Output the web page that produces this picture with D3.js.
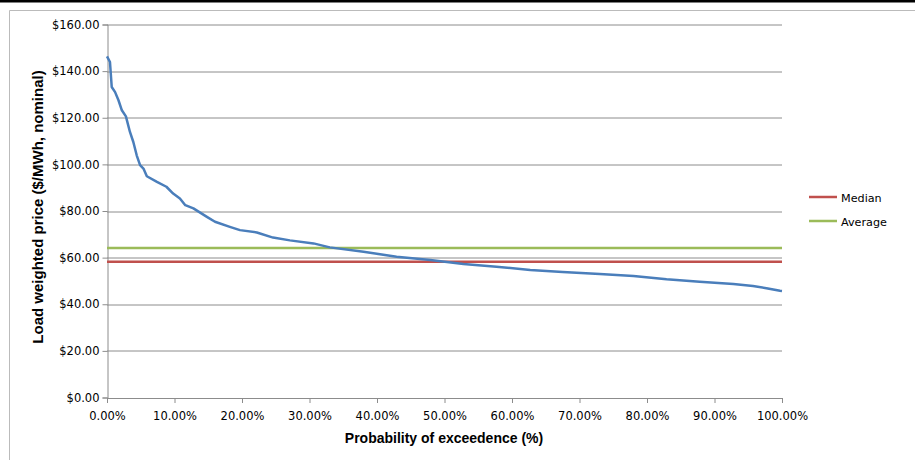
<!DOCTYPE html>
<html>
<head>
<meta charset="utf-8">
<script src="https://cdn.jsdelivr.net/npm/d3@7"></script>
<style>
 body{margin:0;background:#fff;}
 svg text{font-family:"DejaVu Sans",sans-serif;fill:#000;}
 .ttl{font-family:"Liberation Sans",Arial,sans-serif !important;font-weight:bold;}
</style>
</head>
<body>
<div id="chartDiv"></div>
<script>
// Data
var exceedPct = [0,0.44,0.7,1.2,1.7,2.2,2.8,3.4,3.9,4.4,4.9,5.4,5.9,7.4,8.8,9.8,10.8,11.6,12.8,14.8,16,18.2,19.7,22.2,24.6,27.1,30.6,33,38,42.9,47.9,52.8,57.7,62.7,67.5,73,78,82.9,87.8,92.8,95.7,97.7,99.7,100];
var priceVals = [146.3,143.9,133.2,131,127.5,123.2,120.6,113.9,109.6,103.9,99.7,98.2,94.9,92.5,90.4,87.5,85.4,82.5,81.1,77.5,75.4,73.2,71.8,70.8,68.6,67.4,66.1,64.4,62.5,60.4,59,57.3,56.1,54.7,53.8,53,52.1,50.7,49.7,48.7,47.8,46.9,45.8,45.7];
var medianVal = 58.2;
var averageVal = 64.1;
var yTicks = [0,20,40,60,80,100,120,140,160];
var xTicks = [0,10,20,30,40,50,60,70,80,90,100];
var legendNames = ["Median","Average"];
var legendColors = ["#C0504D","#9BBB59"];

var W = 915, H = 460;
var margin = {top: 24.5, right: 133, bottom: 62.5, left: 107};
var width = W - margin.left - margin.right;
var height = H - margin.top - margin.bottom;

var svgRoot = d3.select("#chartDiv").append("svg")
  .attr("width", W).attr("height", H);

// top black band and chart frame
svgRoot.append("rect").attr("x",0).attr("y",0).attr("width",W).attr("height",2.5).attr("fill","#000");
svgRoot.append("path").attr("d","M9.5," + H + "V10.5H" + W)
  .attr("fill","none").attr("stroke","#bbb").attr("stroke-width",1);

var svg = svgRoot.append("g")
  .attr("transform","translate(" + margin.left + "," + margin.top + ")");

var xScale = d3.scaleLinear().domain([0,100]).range([0,width]);
var yScale = d3.scaleLinear().domain([0,160]).range([height,0]);

// grid lines
svg.append("g")
  .selectAll("line").data(yTicks.slice(1)).enter().append("line")
  .attr("x1",0).attr("x2",width)
  .attr("y1",function(d){return Math.round(yScale(d))+0.5;})
  .attr("y2",function(d){return Math.round(yScale(d))+0.5;})
  .attr("stroke","#8c8c8c").attr("stroke-width",1);

// y axis
var yAxis = svg.append("g")
  .attr("transform","translate(0.5,0)")
  .call(d3.axisLeft(yScale).tickValues(yTicks).tickSize(5).tickPadding(3)
    .tickFormat(function(d){return "$" + d3.format(".2f")(d);}));
yAxis.select(".domain").attr("stroke","#8c8c8c");
yAxis.selectAll(".tick line").attr("stroke","#8c8c8c");
yAxis.selectAll("text").style("font-size","11.5px");

// x axis
var xAxis = svg.append("g")
  .attr("transform","translate(0," + (Math.round(height)+0.5) + ")")
  .call(d3.axisBottom(xScale).tickValues(xTicks).tickSize(5).tickPadding(9)
    .tickFormat(function(d){return d3.format(".2f")(d) + "%";}));
xAxis.select(".domain").attr("stroke","#8c8c8c");
xAxis.selectAll(".tick line").attr("stroke","#8c8c8c");
xAxis.selectAll("text").style("font-size","11.5px");

// median and average lines
var refVals = [medianVal, averageVal];
svg.selectAll(".ref").data(refVals).enter().append("line")
  .attr("class","ref")
  .attr("x1",0).attr("x2",width)
  .attr("y1",function(d){return yScale(d);})
  .attr("y2",function(d){return yScale(d);})
  .attr("stroke",function(d,i){return legendColors[i];})
  .attr("stroke-width",2.5);

// exceedance curve
var curveData = exceedPct.map(function(p,i){return {p:p, v:priceVals[i]};});
var valueline = d3.line()
  .x(function(d){return xScale(d.p);})
  .y(function(d){return yScale(d.v);});
svg.append("path").datum(curveData)
  .attr("d",valueline)
  .attr("fill","none")
  .attr("stroke","#4A7EBB")
  .attr("stroke-width",2.5)
  .attr("stroke-linejoin","round");

// axis titles
svgRoot.append("text").attr("class","ttl")
  .attr("x", 444).attr("y", 443)
  .attr("text-anchor","middle").style("font-size","14px")
  .text("Probability of exceedence (%)");
svgRoot.append("text").attr("class","ttl")
  .attr("transform","translate(43," + 207 + ")rotate(-90)")
  .attr("text-anchor","middle").style("font-size","15px")
  .text("Load weighted price ($/MWh, nominal)");

// legend
var legend = svgRoot.append("g").attr("transform","translate(809,197)");
var li = legend.selectAll(".li").data(legendNames).enter().append("g")
  .attr("transform",function(d,i){return "translate(0," + (i*24) + ")";});
li.append("line").attr("x1",0).attr("x2",28).attr("y1",0).attr("y2",0)
  .attr("stroke",function(d,i){return legendColors[i];}).attr("stroke-width",2.5);
li.append("text").attr("x",32).attr("y",4.5).style("font-size","11.2px").text(function(d){return d;});
</script>
</body>
</html>
